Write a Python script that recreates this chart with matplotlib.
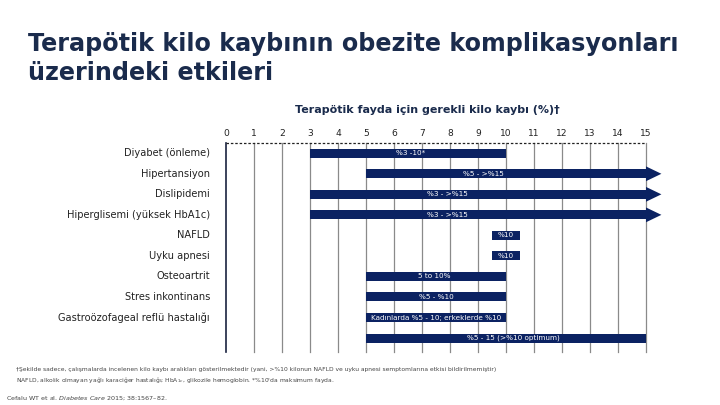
import matplotlib
matplotlib.use("Agg")
import matplotlib.pyplot as plt

categories = ["Diyabet (önleme)", "Hipertansiyon", "Dislipidemi", "Hiperglisemi (yüksek HbA1c)",
              "NAFLD", "Uyku apnesi", "Osteoartrit", "Stres inkontinans",
              "Gastroözofageal reflü hastalığı", ""]
starts = [3, 5, 3, 3, 9.5, 9.5, 5, 5, 5, 5]
ends = [10, 15, 15, 15, 10.5, 10.5, 10, 10, 10, 15]
open_ended = [False, True, True, True, False, False, False, False, False, False]
bar_labels = ["%3 -10*", "%5 - >%15", "%3 - >%15", "%3 - >%15", "%10", "%10",
              "5 to 10%", "%5 - %10", "Kadınlarda %5 - 10; erkeklerde %10", "%5 - 15 (>%10 optimum)"]
label_x = [6.6, 9.2, 7.9, 7.9, 10.0, 10.0, 7.45, 7.5, 7.5, 10.25]
ticks = list(range(0, 16))

NAVY = "#0b2262"
TITLE = "#1a2b4c"

fig = plt.figure(figsize=(7.2, 4.05), dpi=100)
fig.patch.set_facecolor("white")

fig.text(28/720, 1 - 51/405, "Terapötik kilo kaybının obezite komplikasyonları",
         fontsize=17.2, fontweight="bold", color=TITLE, ha="left", va="baseline")
fig.text(28/720, 1 - 80/405, "üzerindeki etkileri",
         fontsize=17.2, fontweight="bold", color=TITLE, ha="left", va="baseline")

ax = fig.add_axes([226/720, 1 - 352/405, 420/720, 209/405])
ax.set_xlim(0, 15)
ax.set_ylim(9.68, -0.5)
ax.axis("off")

# grid lines
for t in ticks[1:]:
    ax.plot([t, t], [9.68, -0.5], color="#8a8a8a", lw=0.9, zorder=1, clip_on=False)
ax.plot([0, 0], [9.68, -0.5], color="#1a2340", lw=1.2, zorder=3, clip_on=False)
ax.plot([0, 15], [-0.5, -0.5], color="#222222", lw=0.9, ls=(0, (2, 1.5)), zorder=3, clip_on=False)

# tick labels at top
for t in ticks:
    ax.text(t, -0.95, str(t), ha="center", va="center", fontsize=6.6, color="#222222")

ax.text(7.2, -2.1, "Terapötik fayda için gerekli kilo kaybı (%)†", ha="center", va="center",
        fontsize=8.0, fontweight="bold", color=TITLE)

bh = 0.44
for i, (s, e, oe, lab, lx) in enumerate(zip(starts, ends, open_ended, bar_labels, label_x)):
    ax.barh(i, e - s, left=s, height=bh, color=NAVY, zorder=2)
    if oe:
        ax.fill([e, e + 0.55, e], [i - 0.36, i, i + 0.36], color=NAVY, zorder=2,
                clip_on=False, lw=0)
    ax.text(lx, i, lab, ha="center", va="center", fontsize=5.2, color="white", zorder=4)
    if categories[i]:
        ax.text(-0.57, i, categories[i], ha="right", va="center", fontsize=7.1, color="#222222")

fig.text(16/720, 1 - 369/405,
         "†Şekilde sadece, çalışmalarda incelenen kilo kaybı aralıkları gösterilmektedir (yani, >%10 kilonun NAFLD ve uyku apnesi semptomlarına etkisi bildirilmemiştir)",
         fontsize=4.3, color="#444444", ha="left", va="center")
fig.text(16/720, 1 - 380/405,
         "NAFLD, alkolik olmayan yağlı karaciğer hastalığı; HbA$_{1c}$, glikozile hemoglobin. *%10'da maksimum fayda.",
         fontsize=4.3, color="#444444", ha="left", va="center")
fig.text(6/720, 1 - 398/405,
         "Cefalu WT et al. $\\it{Diabetes\\ Care}$ 2015; 38:1567–82.",
         fontsize=4.6, color="#444444", ha="left", va="center")

fig.savefig("out.png", dpi=100, facecolor="white")
